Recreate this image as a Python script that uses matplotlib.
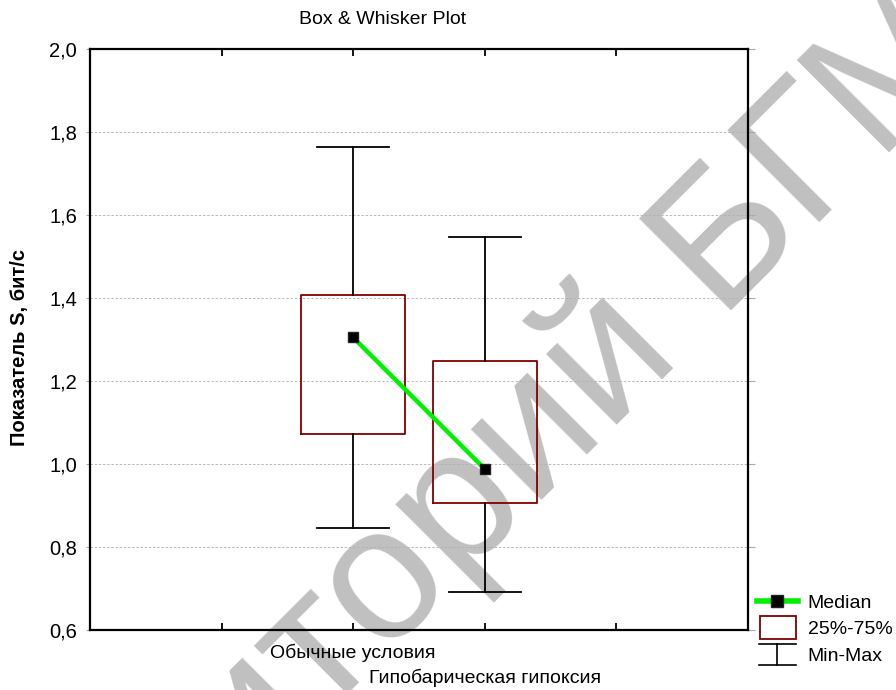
import matplotlib
matplotlib.use("Agg")
import matplotlib.pyplot as plt
from matplotlib.lines import Line2D
from matplotlib.patches import Rectangle
from matplotlib.legend_handler import HandlerBase

plt.rcParams['font.family'] = ['Liberation Sans', 'DejaVu Sans']

# data
groups = ['Обычные условия', 'Гипобарическая гипоксия']
positions = [2, 3]
medians = [1.305, 0.988]
q1 = [1.073, 0.905]
q3 = [1.408, 1.247]
mins = [0.846, 0.692]
maxs = [1.765, 1.546]
yticks = [0.6, 0.8, 1.0, 1.2, 1.4, 1.6, 1.8, 2.0]

box_red = '#800000'
green = '#00f000'


class WhiskerHandler(HandlerBase):
    def create_artists(self, legend, orig, xd, yd, w, h, fontsize, trans):
        cx = xd + w / 2
        top, bot = yd + h * 1.3, yd - h * 0.25
        lines = [
            Line2D([xd + 0.05 * w, xd + 0.95 * w], [top, top]),
            Line2D([xd + 0.05 * w, xd + 0.95 * w], [bot, bot]),
            Line2D([cx, cx], [bot, top]),
        ]
        for ln in lines:
            ln.set_color('black')
            ln.set_linewidth(1.2)
            ln.set_transform(trans)
        return lines


class BoxHandler(HandlerBase):
    def create_artists(self, legend, orig, xd, yd, w, h, fontsize, trans):
        r = Rectangle((xd + 0.08 * w, yd - 0.3 * h), 0.87 * w, h * 1.65,
                      facecolor='white', edgecolor=box_red, lw=1.3, transform=trans)
        return [r]


fig = plt.figure(figsize=(8.96, 6.9), dpi=100)
ax = fig.add_axes([90 / 896, 1 - 630 / 690, 658 / 896, 581 / 690])
ax.patch.set_alpha(0)

# watermark behind the plot
fig.text(-119 / 896, 1 - 1160 / 690, 'Репозиторий БГМУ', rotation=45, fontsize=137,
         color='#c0c0c0', ha='left', va='baseline', zorder=-5,
         rotation_mode='anchor')

stats = []
for i in range(len(groups)):
    stats.append(dict(med=medians[i], q1=q1[i], q3=q3[i],
                      whislo=mins[i], whishi=maxs[i], fliers=[]))

ax.bxp(stats, positions=positions, widths=0.79, capwidths=0.55,
       showfliers=False,
       boxprops=dict(color=box_red, lw=1.3),
       whiskerprops=dict(color='black', lw=1.3),
       capprops=dict(color='black', lw=1.3),
       medianprops=dict(visible=False))

ax.plot(positions, medians, color=green, lw=3.2, marker='s',
        markersize=7.5, markerfacecolor='black', markeredgecolor='#222222',
        zorder=5)

ax.set_xlim(0, 5)
ax.set_ylim(0.6, 2.0)
ax.set_yticks(yticks)
ax.set_yticklabels([f'{v:.1f}'.replace('.', ',') for v in yticks], fontsize=14.5)
ax.set_xticks([1, 2, 3, 4])
ax.set_xticklabels([])
ax.tick_params(axis='x', direction='in', top=True, length=5, width=1.3)
ax.tick_params(axis='y', direction='out', length=3, width=0.8, color='#aaaaaa', pad=6.4)
for t in ax.yaxis.get_major_ticks():
    t.tick2line.set_visible(True)
    t.tick2line.set_color('black')
    t.tick2line.set_markersize(5)
    t.tick2line.set_marker(1)

ax.grid(axis='y', color='#b0b0b0', ls=(0, (3, 2)), lw=0.6)
for s in ax.spines.values():
    s.set_linewidth(1.6)

# category labels, staggered
tr = ax.get_xaxis_transform()
ax.text(positions[0], -0.024, groups[0], transform=tr, ha='center', va='top', fontsize=14)
ax.text(positions[1], -0.067, groups[1], transform=tr, ha='center', va='top', fontsize=14)

ax.set_ylabel('Показатель S, бит/с', fontsize=14.5, fontweight='bold')
ax.yaxis.set_label_coords(-0.092, 0.486)
fig.text(383 / 896, 1 - 20 / 690, 'Box & Whisker Plot', ha='center', va='center', fontsize=14)

h_med = Line2D([], [], color=green, lw=4, marker='s', markersize=8,
               markerfacecolor='black', markeredgecolor='#222222')
h_box = Rectangle((0, 0), 1, 1)
h_mm = Line2D([], [])
fig.legend([h_med, h_box, h_mm], ['Median', '25%-75%', 'Min-Max'],
           handler_map={h_box: BoxHandler(), h_mm: WhiskerHandler()},
           loc='upper left', bbox_to_anchor=(755 / 896, 1 - 592 / 690),
           frameon=False, fontsize=14, handlelength=2.1, handletextpad=0.5,
           labelspacing=0.48, borderaxespad=0, borderpad=0.1)

fig.savefig('out.png', dpi=100)
